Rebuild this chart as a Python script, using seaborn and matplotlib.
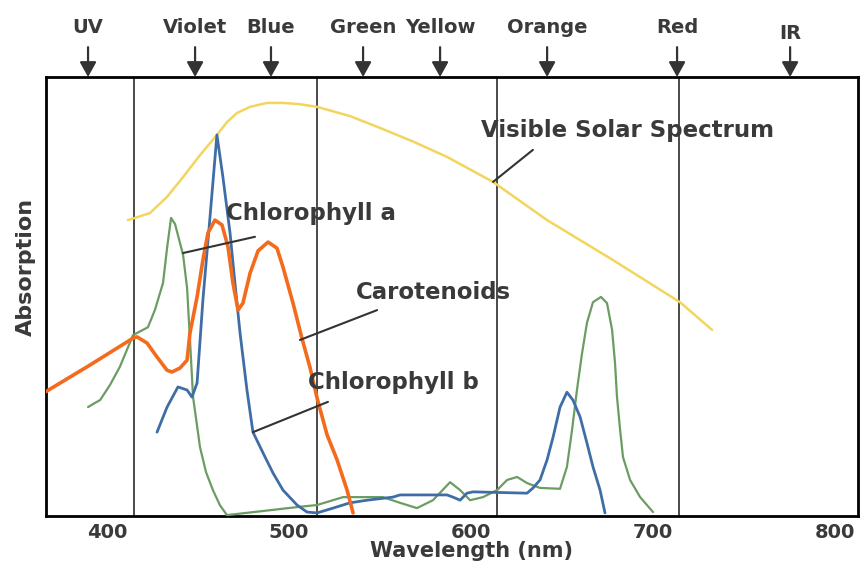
import numpy as np
import pandas as pd
import seaborn as sns
import matplotlib.pyplot as plt

# absorption curves (wavelength in nm, absorption 0-1)
solar_nm = [411.5, 423.6, 433.0, 441.8, 451.1, 460.4, 465.9, 471.4, 478.6, 487.9, 496.7, 506.0, 515.4, 533.5,
            550.0, 568.7, 586.8, 612.1, 641.8, 678.0, 714.8, 732.4]
solar_abs = [0.674, 0.690, 0.727, 0.772, 0.822, 0.868, 0.897, 0.918, 0.932, 0.941, 0.941, 0.938, 0.932, 0.911,
             0.884, 0.852, 0.818, 0.761, 0.674, 0.583, 0.487, 0.424]

chl_a_nm = [389.6, 392.3, 396.2, 401.6, 407.1, 414.3, 422.5, 426.4, 430.8, 433.0, 435.2, 437.4, 441.8, 444.0,
            445.6, 447.3, 451.1, 454.4, 458.2, 462.0, 465.9, 506.0, 515.4, 529.7, 551.6, 561.0, 570.3, 579.1,
            588.5, 594.0, 599.5, 606.6, 614.3, 619.8, 625.3, 630.8, 637.9, 648.9, 652.7, 655.5, 658.2, 661.0,
            663.7, 667.0, 671.4, 674.7, 677.5, 679.1, 680.2, 681.9, 683.5, 687.4, 692.9, 700.0]
chl_a_abs = [0.248, 0.255, 0.264, 0.298, 0.340, 0.412, 0.430, 0.470, 0.531, 0.610, 0.679, 0.665, 0.595, 0.520,
             0.401, 0.271, 0.157, 0.100, 0.059, 0.025, 0.002, 0.021, 0.025, 0.043, 0.043, 0.030, 0.018, 0.036,
             0.077, 0.059, 0.036, 0.043, 0.059, 0.082, 0.089, 0.075, 0.064, 0.062, 0.112, 0.196, 0.287, 0.371,
             0.440, 0.487, 0.499, 0.485, 0.424, 0.349, 0.271, 0.196, 0.134, 0.082, 0.043, 0.009]

chl_b_nm = [427.5, 433.0, 439.0, 444.0, 446.7, 449.5, 452.7, 456.6, 460.4, 463.7, 467.6, 470.3, 473.1, 476.9,
            480.2, 485.7, 491.2, 496.7, 504.4, 509.9, 515.4, 524.2, 533.5, 542.9, 557.1, 561.0, 586.8, 590.1,
            594.0, 597.8, 601.1, 630.8, 634.1, 637.9, 641.8, 645.1, 648.9, 652.7, 656.0, 659.9, 663.7, 667.0,
            670.9, 673.6]
chl_b_abs = [0.191, 0.248, 0.294, 0.287, 0.271, 0.303, 0.492, 0.681, 0.868, 0.772, 0.645, 0.531, 0.417, 0.287,
             0.191, 0.144, 0.098, 0.059, 0.025, 0.009, 0.007, 0.018, 0.030, 0.036, 0.043, 0.048, 0.048, 0.043,
             0.036, 0.052, 0.055, 0.052, 0.064, 0.082, 0.128, 0.180, 0.248, 0.282, 0.264, 0.226, 0.166, 0.112,
             0.059, 0.007]

carot_nm = [365.9, 390.7, 414.3, 416.5, 422.0, 427.5, 433.0, 435.7, 440.1, 444.0, 445.6, 449.5, 452.7, 455.5,
            459.3, 463.2, 466.5, 469.2, 472.0, 474.7, 478.6, 483.0, 488.5, 493.4, 496.7, 502.2, 507.1, 511.5,
            515.4, 520.9, 526.4, 531.9, 535.2]
carot_abs = [0.282, 0.344, 0.405, 0.408, 0.394, 0.362, 0.332, 0.328, 0.337, 0.355, 0.417, 0.499, 0.583, 0.645,
             0.674, 0.663, 0.613, 0.531, 0.469, 0.485, 0.553, 0.604, 0.624, 0.610, 0.567, 0.485, 0.405, 0.339,
             0.269, 0.185, 0.128, 0.059, 0.007]

# colour bands marked along the top
band_names = ['UV', 'Violet', 'Blue', 'Green', 'Yellow', 'Orange', 'Red', 'IR']
band_nm = [389.6, 448.4, 490.1, 540.7, 583.0, 641.8, 713.2, 775.3]

divider_nm = [415, 515.5, 614, 714]
x_ticks = [400, 500, 600, 700, 800]

sns.set_style('white')
plt.rcParams['font.family'] = ['DejaVu Sans']
txt_col = '#3a3a3a'

fig = plt.figure(figsize=(8.61, 5.66), dpi=100)
ax = fig.add_axes([46 / 861, 50 / 566, 812 / 861, 439 / 566])

for x in divider_nm:
    ax.axvline(x, color='#4a4a4a', lw=1.4, zorder=1)

series = [
    ('Visible Solar Spectrum', solar_nm, solar_abs, '#f3d55e', 1.8),
    ('Chlorophyll a', chl_a_nm, chl_a_abs, '#6b9d62', 1.6),
    ('Chlorophyll b', chl_b_nm, chl_b_abs, '#3f6ea6', 2.0),
    ('Carotenoids', carot_nm, carot_abs, '#f36b1c', 2.6),
]
for name, xs, ys, col, lw in series:
    df = pd.DataFrame({'nm': xs, 'abs': ys})
    sns.lineplot(data=df, x='nm', y='abs', sort=False, color=col, lw=lw, ax=ax, zorder=3)

ax.set_xlim(366.5, 812.6)
ax.set_ylim(0, 1)
ax.set_xticks(x_ticks)
ax.set_xticklabels([str(t) for t in x_ticks], fontsize=14, color=txt_col, fontweight='bold')
ax.set_yticks([])
ax.tick_params(axis='x', length=0, pad=5)
ax.set_xlabel('Wavelength (nm)', fontsize=15, color=txt_col, fontweight='bold')
ax.xaxis.set_label_coords((472 - 46) / 812, -0.058)
ax.set_ylabel('Absorption', fontsize=16, color=txt_col, fontweight='bold')
ax.yaxis.set_label_coords(-0.012, 0.567)
for s in ax.spines.values():
    s.set_color('black')
    s.set_linewidth(2)

# labels with leader lines
labels = [
    ('Chlorophyll a', (441.8, 0.599), (481.3, 0.636), (465.4, 0.69)),
    ('Carotenoids', (506.0, 0.401), (548.4, 0.469), (536.8, 0.51)),
    ('Chlorophyll b', (480.2, 0.191), (521.4, 0.260), (510.4, 0.303)),
    ('Visible Solar Spectrum', (612.1, 0.761), (634.0, 0.834), (605.6, 0.877)),
]
for text, p0, p1, tp in labels:
    ax.plot([p0[0], p1[0]], [p0[1], p1[1]], color='#333333', lw=1.5, zorder=4)
    ax.text(tp[0], tp[1], text, fontsize=16.5, fontweight='bold', color=txt_col, va='center', ha='left', zorder=5)

for name, x in zip(band_names, band_nm):
    ax.annotate('', xy=(x, 1.0), xytext=(x, 1.068), annotation_clip=False,
                arrowprops=dict(arrowstyle='-|>,head_length=0.45,head_width=0.25', color='#333333',
                                lw=1.6, mutation_scale=20, shrinkA=0, shrinkB=0))
    ty = 1.1 if name == 'IR' else 1.112
    ax.text(x, ty, name, fontsize=14, fontweight='bold', color=txt_col, ha='center', va='center', clip_on=False)

plt.savefig('out.png', dpi=100)
